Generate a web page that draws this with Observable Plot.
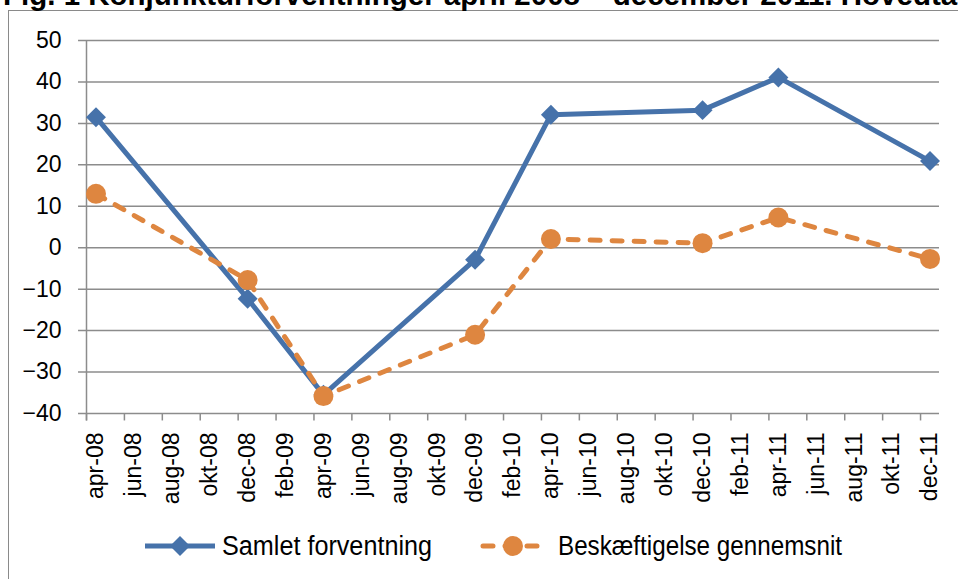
<!DOCTYPE html>
<html><head><meta charset="utf-8">
<script src="https://cdn.jsdelivr.net/npm/d3@7"></script>
<script src="https://cdn.jsdelivr.net/npm/@observablehq/plot@0.6"></script>
<style>
html,body{margin:0;padding:0;background:#fff}
body{width:958px;height:579px;overflow:hidden;position:relative;font-family:"Liberation Sans",Arial,sans-serif}
#frame{position:absolute;left:8px;top:10px;width:1000px;height:700px;border-left:1.5px solid #8a8a8a;border-top:1.5px solid #8a8a8a;box-sizing:border-box}
#chart{position:absolute;left:0;top:0}
#title{position:absolute;left:0;top:0}
#legend{position:absolute;left:0;top:0}
</style></head><body>
<div id="frame"></div>
<svg id="title" width="958" height="20"><text x="3" y="5" font-family="Liberation Sans, Arial, sans-serif" font-weight="bold" font-size="29.5" fill="#000">Fig. 1 Konjunkturforventninger april 2008 – december 2011. Hovedtal</text></svg>
<div id="chart"></div>
<svg id="legend" width="958" height="579"></svg>
<script>
// ---- data ----
const tickLabels = ["apr-08","jun-08","aug-08","okt-08","dec-08","feb-09","apr-09","jun-09","aug-09","okt-09","dec-09","feb-10","apr-10","jun-10","aug-10","okt-10","dec-10","feb-11","apr-11","jun-11","aug-11","okt-11","dec-11"];
const obsDates = ["apr-08","dec-08","apr-09","dec-09","apr-10","dec-10","apr-11","dec-11"];
const samlet = [31.5, -12.3, -35.5, -2.9, 32.1, 33.2, 41.1, 20.9];
const beskaeftigelse = [13.0, -7.8, -35.8, -21.0, 2.1, 1.1, 7.3, -2.7];
const yTicks = [-40, -30, -20, -10, 0, 10, 20, 30, 40, 50];
const seriesNames = ["Samlet forventning", "Beskæftigelse gennemsnit"];

const blue = "#4672AA", orange = "#DE8640", grid = "#8c8c8c";
const monthNames = ["jan","feb","mar","apr","maj","jun","jul","aug","sep","okt","nov","dec"];
const monthIndex = s => { const [m, y] = s.split("-"); return (+y - 8) * 12 + monthNames.indexOf(m) - 3; };

const dataS = obsDates.map((d, i) => ({x: monthIndex(d) + 0.5, y: samlet[i]}));
const dataB = obsDates.map((d, i) => ({x: monthIndex(d) + 0.5, y: beskaeftigelse[i]}));
const boundaries = tickLabels.map(monthIndex);
const centers = boundaries.map(b => b + 0.5);
const labelMap = new Map(tickLabels.map((t, i) => [centers[i], t]));

const chart = Plot.plot({
  width: 958, height: 579,
  marginLeft: 86, marginRight: 19, marginTop: 40, marginBottom: 166,
  x: {type: "linear", domain: [0, 45]},
  y: {domain: [-40, 50]},
  style: {fontFamily: "Liberation Sans, Arial, sans-serif", background: "transparent", overflow: "visible"},
  marks: [
    Plot.ruleY(yTicks, {x1: -0.42, x2: 45, stroke: grid, strokeWidth: 1.5}),
    Plot.ruleX([0], {y1: -41.8, y2: 50, stroke: grid, strokeWidth: 1.5}),
    Plot.ruleX(boundaries, {y1: -40, y2: -41.8, stroke: grid, strokeWidth: 1.5}),
    Plot.axisY({ticks: yTicks, tickSize: 0, tickPadding: 25, fontSize: 23, fill: "#000", label: null}),
    Plot.axisX({ticks: centers, tickFormat: d => labelMap.get(d), tickRotate: -90, tickSize: 0, tickPadding: 19, fontSize: 23, fill: "#000", label: null}),
    Plot.line(dataS, {x: "x", y: "y", stroke: blue, strokeWidth: 5}),
    Plot.dot(dataS, {x: "x", y: "y", symbol: "diamond2", r: 9, fill: blue, stroke: "none"}),
    Plot.line(dataB, {x: "x", y: "y", stroke: orange, strokeWidth: 5, strokeDasharray: "10,12", strokeLinecap: "round"}),
    Plot.dot(dataB, {x: "x", y: "y", r: 10, fill: orange, stroke: "none"})
  ]
});
document.getElementById("chart").append(chart);

// ---- legend ----
const lg = d3.select("#legend");
const ly = 546;
lg.append("line").attr("x1", 145).attr("x2", 215).attr("y1", ly).attr("y2", ly).attr("stroke", blue).attr("stroke-width", 5);
lg.append("path").attr("d", d3.symbol(d3.symbolDiamond2, Math.PI * 81)()).attr("transform", `translate(180,${ly})`).attr("fill", blue);
lg.append("text").attr("x", 222).attr("y", ly + 9).attr("font-family", "Liberation Sans Narrow, Arial Narrow, sans-serif").attr("font-size", 27).attr("textLength", 210).attr("lengthAdjust", "spacingAndGlyphs").text(seriesNames[0]);
lg.append("line").attr("x1", 483).attr("x2", 543).attr("y1", ly).attr("y2", ly).attr("stroke", orange).attr("stroke-width", 5).attr("stroke-dasharray", "10,12").attr("stroke-linecap", "round");
lg.append("circle").attr("cx", 513).attr("cy", ly).attr("r", 10).attr("fill", orange);
lg.append("text").attr("x", 558).attr("y", ly + 9).attr("font-family", "Liberation Sans Narrow, Arial Narrow, sans-serif").attr("font-size", 27).attr("textLength", 284).attr("lengthAdjust", "spacingAndGlyphs").text(seriesNames[1]);
</script>
</body></html>
